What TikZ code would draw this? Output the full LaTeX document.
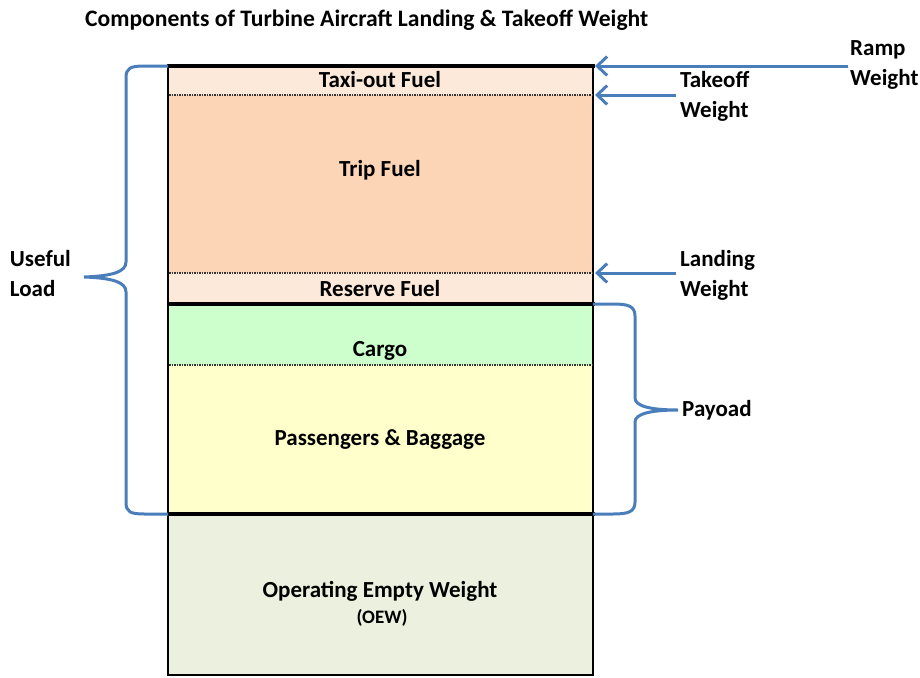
\documentclass[tikz,border=0pt]{standalone}
\usepackage{fontspec}
\setmainfont{Carlito}
\usetikzlibrary{arrows.meta}
\definecolor{peachL}{HTML}{FCE9DA}
\definecolor{peach}{HTML}{FBD5B5}
\definecolor{cargo}{HTML}{CCFFCC}
\definecolor{pax}{HTML}{FFFFCC}
\definecolor{oew}{HTML}{EBF1DE}
\definecolor{bl}{HTML}{4A7EBB}
\begin{document}
\begin{tikzpicture}[x=1pt,y=-1pt,
  lbl/.style={font=\bfseries\fontsize{23}{26}\selectfont, inner sep=0pt},
  side/.style={font=\bfseries\fontsize{23}{30}\selectfont, align=left, inner sep=0pt},
  arr/.style={draw=bl, line width=3pt, -{Straight Barb[length=10pt,width=19pt,line width=3pt]}},
  brace/.style={draw=bl, line width=3pt},
  thick line/.style={line width=3.5pt},
  dot line/.style={line width=2.5pt, dash pattern=on 1.5pt off 1pt, black!80}]
\useasboundingbox (0,0) rectangle (920,677);
% fills
\fill[peachL] (168,66) rectangle (593,95);
\fill[peach] (168,95) rectangle (593,273);
\fill[peachL] (168,273) rectangle (593,304);
\fill[cargo] (168,304) rectangle (593,365);
\fill[pax] (168,365) rectangle (593,514);
\fill[oew] (168,514) rectangle (593,675);
% borders
\draw[line width=2.5pt] (168,66) -- (168,675) -- (593,675) -- (593,66);
\draw[thick line] (166.5,66) -- (594.5,66);
\draw[thick line] (166.5,304) -- (594.5,304);
\draw[thick line] (166.5,514) -- (594.5,514);
\draw[dot line] (169,95) -- (592,95);
\draw[dot line] (169,273) -- (592,273);
\draw[dot line] (169,365) -- (592,365);
% labels
\node[font=\bfseries\fontsize{23.6}{26}\selectfont, anchor=west, inner sep=0pt] (title) at (85,20) {Components of Turbine Aircraft Landing \& Takeoff Weight};
\node[lbl] (taxi) at (380,80) {Taxi-out Fuel};
\node[lbl] (trip) at (380,170) {Trip Fuel};
\node[lbl] (res) at (380,289) {Reserve Fuel};
\node[lbl] (cargoT) at (380,351) {Cargo};
\node[lbl] (paxT) at (380,440) {Passengers \& Baggage};
\node[lbl] (oewT) at (380,591) {Operating Empty Weight};
\node[font=\bfseries\fontsize{19}{22}\selectfont, inner sep=0pt] (oewS) at (382,618) {(OEW)};
% side labels
\node[side, anchor=west] (ramp) at (850,65) {Ramp\\Weight};
\node[side, anchor=west] (tko) at (680,96) {Takeoff\\Weight};
\node[side, anchor=west] (land) at (680,275) {Landing\\Weight};
\node[side, anchor=east] (useful) at (71,274) {Useful\\Load};
\node[lbl, anchor=west] (payload) at (682,410) {Payoad};
% arrows
\coordinate (rampEnd) at (595,66);
\coordinate (tkoEnd) at (595,95);
\coordinate (landEnd) at (595,273);
\draw[arr] (ramp.west |- rampEnd) ++(-2,0) -- (rampEnd);
\draw[arr] (tko.west |- tkoEnd) ++(-4,0) -- (tkoEnd);
\draw[arr] (land.west |- landEnd) ++(-4,0) -- (landEnd);
% left brace
\draw[brace] (168,66) -- (145,66) .. controls (130,66) and (126,68) .. (126,78)
  -- (126,262) .. controls (126,272) and (112,276) .. (84,277)
  .. controls (112,278) and (126,282) .. (126,292)
  -- (126,502) .. controls (126,512) and (130,514) .. (145,514) -- (168,514);
% right brace
\draw[brace] (593,304) -- (613,304) .. controls (628,304) and (635,306) .. (635,316)
  -- (635,398) .. controls (635,406) and (650,410) .. (678,410)
  .. controls (650,410) and (635,414) .. (635,422)
  -- (635,502) .. controls (635,512) and (628,514) .. (613,514) -- (593,514);
\end{tikzpicture}
\end{document}
